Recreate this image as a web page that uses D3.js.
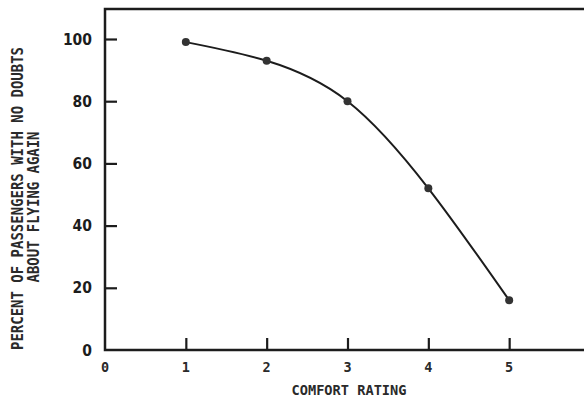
<!DOCTYPE html>
<html>
<head>
<meta charset="utf-8">
<script src="https://cdn.jsdelivr.net/npm/d3@7"></script>
<style>
  body { margin: 0; background: #fff; }
  svg { display: block; }
</style>
</head>
<body>
<div id="chart"></div>
<script>
// comfort rating vs percent with no doubts
const ratings = [1, 2, 3, 4, 5];
const percents = [99, 93, 80, 52, 16];
const xTicks = [0, 1, 2, 3, 4, 5];
const yTicks = [0, 20, 40, 60, 80, 100];

const W = 584, H = 409;
const svg = d3.select('#chart').append('svg')
  .attr('width', W)
  .attr('height', H);

const ink = '#1c1c1c';

const x = d3.scaleLinear().domain([0, 6]).range([105, 590]);
const y = d3.scaleLinear().domain([0, 100]).range([350, 39]);

// frame (left, top, bottom; right side runs off the page)
svg.append('path')
  .attr('d', `M${x(6)},${y(0)} H${x(0)} V9 H${x(6)}`)
  .attr('fill', 'none')
  .attr('stroke', ink)
  .attr('stroke-width', 2.5);

// y ticks, inward
const yAxis = svg.append('g')
  .attr('transform', `translate(${x(0)},0)`)
  .call(d3.axisRight(y).tickValues(yTicks.filter(d => d > 0)).tickSize(12).tickFormat(''));
yAxis.select('.domain').remove();
yAxis.selectAll('line').attr('stroke', ink).attr('stroke-width', 2.2);

// x ticks, inward
const xAxis = svg.append('g')
  .attr('transform', `translate(0,${y(0)})`)
  .call(d3.axisTop(x).tickValues(xTicks.filter(d => d > 0)).tickSize(12).tickFormat(''));
xAxis.select('.domain').remove();
xAxis.selectAll('line').attr('stroke', ink).attr('stroke-width', 2.2);

// y tick labels
svg.append('g').selectAll('text')
  .data(yTicks)
  .enter().append('text')
  .attr('x', 92)
  .attr('y', d => y(d) + 5.5)
  .attr('text-anchor', 'end')
  .style('font-family', '"DejaVu Sans Condensed", "DejaVu Sans", sans-serif')
  .style('font-weight', 'bold')
  .style('font-size', '15.5px')
  .attr('fill', ink)
  .text(d => d);

// x tick labels
const mono = '"DejaVu Sans Mono", "Liberation Mono", monospace';
svg.append('g').selectAll('text')
  .data(xTicks)
  .enter().append('text')
  .attr('x', d => x(d))
  .attr('y', 372)
  .attr('text-anchor', 'middle')
  .style('font-family', mono)
  .style('font-weight', 'bold')
  .style('font-size', '13.5px')
  .attr('fill', '#2a2a2a')
  .text(d => d);

// axis titles
svg.append('text')
  .attr('x', 349)
  .attr('y', 395)
  .attr('text-anchor', 'middle')
  .attr('textLength', 115)
  .attr('lengthAdjust', 'spacingAndGlyphs')
  .style('font-family', mono)
  .style('font-weight', 'bold')
  .style('font-size', '14px')
  .attr('fill', '#2a2a2a')
  .text('COMFORT RATING');

svg.append('text')
  .attr('transform', 'translate(23,198.5) rotate(-90)')
  .attr('text-anchor', 'middle')
  .attr('textLength', 303)
  .attr('lengthAdjust', 'spacingAndGlyphs')
  .style('font-family', mono)
  .style('font-weight', 'bold')
  .style('font-size', '16px')
  .attr('fill', '#2a2a2a')
  .text('PERCENT OF PASSENGERS WITH NO DOUBTS');

svg.append('text')
  .attr('transform', 'translate(38.5,207) rotate(-90)')
  .attr('text-anchor', 'middle')
  .attr('textLength', 151)
  .attr('lengthAdjust', 'spacingAndGlyphs')
  .style('font-family', mono)
  .style('font-weight', 'bold')
  .style('font-size', '15px')
  .attr('fill', '#2a2a2a')
  .text('ABOUT FLYING AGAIN');

// curve
const pts = ratings.map((r, i) => [r, percents[i]]);
svg.append('path')
  .datum(pts)
  .attr('fill', 'none')
  .attr('stroke', ink)
  .attr('stroke-width', 2)
  .attr('d', d3.line()
    .x(d => x(d[0]))
    .y(d => y(d[1]))
    .curve(d3.curveNatural));

svg.append('g').selectAll('circle')
  .data(pts)
  .enter().append('circle')
  .attr('cx', d => x(d[0]))
  .attr('cy', d => y(d[1]))
  .attr('r', 4)
  .attr('fill', '#333');
</script>
</body>
</html>
